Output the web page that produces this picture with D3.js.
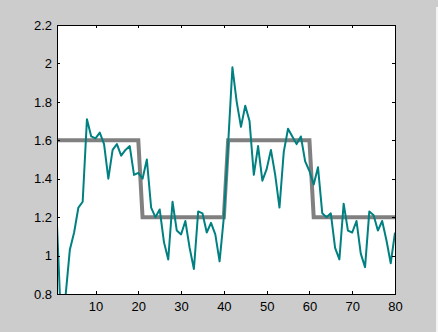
<html>
<title>Step response</title>
<script src="https://d3js.org/d3.v7.min.js"></script>
<style>
  body { margin: 0; background: #cccccc; }
  svg text { font-family: "Liberation Sans", Arial, sans-serif; font-size: 13px; fill: #000; }
</style>
<body>
<div id="my_dataviz"></div>
<script>
// sample index 1..80
var xs_data = d3.range(1, 81);
var stepValues = [
  1.6,1.6,1.6,1.6,1.6,1.6,1.6,1.6,1.6,1.6,1.6,1.6,1.6,1.6,1.6,1.6,1.6,1.6,1.6,1.6,
  1.2,1.2,1.2,1.2,1.2,1.2,1.2,1.2,1.2,1.2,1.2,1.2,1.2,1.2,1.2,1.2,1.2,1.2,1.2,1.2,
  1.6,1.6,1.6,1.6,1.6,1.6,1.6,1.6,1.6,1.6,1.6,1.6,1.6,1.6,1.6,1.6,1.6,1.6,1.6,1.6,
  1.2,1.2,1.2,1.2,1.2,1.2,1.2,1.2,1.2,1.2,1.2,1.2,1.2,1.2,1.2,1.2,1.2,1.2,1.2,1.2
];
var outputValues = [
  1.16,0.62,0.79,1.03,1.12,1.25,1.28,1.71,1.62,1.61,
  1.64,1.58,1.40,1.55,1.58,1.52,1.55,1.57,1.42,1.43,
  1.40,1.50,1.25,1.20,1.24,1.07,0.98,1.28,1.13,1.11,
  1.18,1.04,0.93,1.23,1.22,1.12,1.17,1.11,0.97,1.20,
  1.58,1.98,1.80,1.67,1.78,1.70,1.42,1.57,1.39,1.45,
  1.55,1.42,1.25,1.54,1.66,1.62,1.58,1.62,1.49,1.44,
  1.37,1.46,1.22,1.20,1.22,1.04,0.98,1.27,1.13,1.12,
  1.18,1.01,0.94,1.23,1.21,1.13,1.18,1.08,0.96,1.12
];
var xTicks = [10,20,30,40,50,60,70,80];
var xLabels = ["10","20","30","40","50","60","70","80"];
var yTicks = [0.8,1,1.2,1.4,1.6,1.8,2,2.2];
var yLabels = ["0.8","1","1.2","1.4","1.6","1.8","2","2.2"];

var W = 438, H = 332;
var pLeft = 57, pRight = 395, pTop = 25, pBottom = 294;

var x = d3.scaleLinear().domain([1, 80]).range([pLeft, pRight]);
var y = d3.scaleLinear().domain([0.8, 2.2]).range([pBottom, pTop]);

var svg = d3.select("#my_dataviz").append("svg")
    .attr("width", W)
    .attr("height", H)
    .style("display", "block");

svg.append("rect").attr("width", W).attr("height", H).attr("fill", "#cccccc");
// thin light strip at the right edge
svg.append("rect").attr("x", 436).attr("y", 7).attr("width", 2).attr("height", H - 7).attr("fill", "#f4f4f4");

svg.append("rect")
    .attr("x", pLeft).attr("y", pTop)
    .attr("width", pRight - pLeft).attr("height", pBottom - pTop)
    .attr("fill", "#ffffff");

svg.append("clipPath").attr("id", "clip")
  .append("rect")
    .attr("x", pLeft).attr("y", pTop)
    .attr("width", pRight - pLeft).attr("height", pBottom - pTop);

var line = d3.line()
    .x(function(d, i) { return x(xs_data[i]); })
    .y(function(d) { return y(d); });

var plot = svg.append("g").attr("clip-path", "url(#clip)");

plot.append("path")
    .datum(stepValues)
    .attr("d", line)
    .attr("fill", "none")
    .attr("stroke", "#808080")
    .attr("stroke-width", 4);

plot.append("path")
    .datum(outputValues)
    .attr("d", line)
    .attr("fill", "none")
    .attr("stroke", "#008080")
    .attr("stroke-width", 2)
    .attr("stroke-linejoin", "round");

// axes, ticks pointing inward on all four sides
svg.append("g")
    .attr("transform", "translate(0," + pBottom + ")")
    .call(d3.axisBottom(x).tickValues(xTicks).tickSize(-3).tickPadding(8)
        .tickFormat(function(d, i) { return xLabels[i]; }));

svg.append("g")
    .attr("transform", "translate(0," + pTop + ")")
    .call(d3.axisTop(x).tickValues(xTicks).tickSize(-3).tickFormat(""));

svg.append("g")
    .attr("transform", "translate(" + pLeft + ",0)")
    .call(d3.axisLeft(y).tickValues(yTicks).tickSize(-3).tickPadding(5)
        .tickFormat(function(d, i) { return yLabels[i]; }));

svg.append("g")
    .attr("transform", "translate(" + pRight + ",0)")
    .call(d3.axisRight(y).tickValues(yTicks).tickSize(-3).tickFormat(""));

svg.selectAll(".domain").remove();
svg.selectAll(".tick line").attr("stroke", "#000").attr("shape-rendering", "crispEdges");
svg.selectAll(".tick text").style("font-family", "'Liberation Sans', Arial, sans-serif").style("font-size", "13px");

svg.append("rect")
    .attr("x", pLeft).attr("y", pTop)
    .attr("width", pRight - pLeft).attr("height", pBottom - pTop)
    .attr("fill", "none")
    .attr("stroke", "#000")
    .attr("stroke-width", 1)
    .attr("shape-rendering", "crispEdges");
</script>
</body>
</html>
